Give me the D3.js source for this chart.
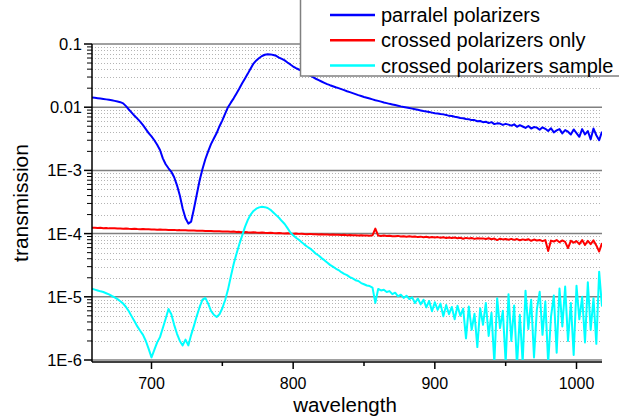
<!DOCTYPE html>
<html>
<head>
<meta charset="utf-8">
<script src="https://cdn.jsdelivr.net/npm/d3@7"></script>
<style>
  html, body { margin: 0; padding: 0; background: #fff; }
  svg { display: block; font-family: "Liberation Sans", Arial, sans-serif; }
</style>
</head>
<body>
<div id="chart"></div>
<script>
// wavelength grid of the spectra (nm, 2 nm steps)
const wavelengths = d3.range(658, 1019, 2);

// parallel polarizers, in units of 1E-3
const parallelValues = [
  14.3, 14.1, 13.9, 13.7, 13.5, 13.3, 13.1, 12.9, 12.6, 12.3,
  12.0, 11.5, 10.4, 9.2, 8.2, 7.3, 6.6, 5.9, 5.2, 4.5,
  3.9, 3.45, 3.0, 2.55, 2.1, 1.55, 1.25, 1.08, 0.95, 0.78,
  0.58, 0.40, 0.25, 0.175, 0.144, 0.155, 0.25, 0.42, 0.70, 1.05,
  1.5, 2.0, 2.6, 3.2, 3.9, 5.0, 6.2, 7.9, 10.0, 11.8,
  13.8, 16.5, 19.8, 24, 28.5, 34, 41, 49, 55, 60,
  64.5, 67.5, 69, 68.5, 67, 65, 61, 58, 55, 51,
  47.5, 44, 41.5, 39.5, 37.5, 35.5, 33.5, 31.5, 29.8, 28.2,
  26.8, 25.5, 24.3, 23.2, 22.3, 21.5, 20.7, 20.0, 19.3, 18.6,
  17.9, 17.3, 16.7, 16.1, 15.5, 15.0, 14.5, 14.1, 13.7, 13.3,
  12.9, 12.6, 12.25, 11.9, 11.6, 11.3, 11.05, 10.8, 10.55, 10.3,
  10.1, 9.9, 9.7, 9.5, 9.3, 9.1, 8.9, 8.7, 8.55, 8.4,
  8.2, 8.0, 7.95, 7.8, 7.7, 7.55, 7.3, 7.25, 7.05, 6.95,
  6.75, 6.7, 6.5, 6.45, 6.25, 6.25, 6.0, 6.05, 5.8, 5.9,
  5.6, 5.8, 5.4, 5.55, 5.5, 5.25, 5.45, 5.3, 5.1, 5.35,
  4.9, 5.2, 4.95, 4.7, 5.05, 4.6, 4.85, 4.75, 4.4, 4.8,
  4.55, 4.2, 4.65, 4.0, 4.3, 4.5, 3.85, 4.35, 4.1, 3.7,
  4.45, 3.9, 3.4, 4.5, 3.7, 4.2, 3.1, 4.6, 3.6, 3.0,
  4.1
];

// crossed polarizers only, in units of 1E-5
const crossedOnlyValues = [
  12.4, 12.4, 12.3, 12.35, 12.2, 12.25, 12.1, 12.2, 12.1, 12.0,
  12.05, 11.95, 12.0, 11.9, 11.85, 11.9, 11.8, 11.75, 11.8, 11.7,
  11.7, 11.6, 11.65, 11.55, 11.6, 11.5, 11.5, 11.45, 11.4, 11.45,
  11.3, 11.35, 11.25, 11.3, 11.2, 11.15, 11.2, 11.1, 11.05, 11.1,
  11.0, 10.95, 11.0, 10.9, 10.85, 10.9, 10.8, 10.8, 10.75, 10.7,
  10.75, 10.6, 10.65, 10.55, 10.6, 10.5, 10.45, 10.5, 10.4, 10.35,
  10.4, 10.3, 10.25, 10.3, 10.2, 10.15, 10.2, 10.1, 10.05, 10.1,
  10.0, 9.95, 10.0, 9.9, 9.95, 9.85, 9.8, 9.9, 9.75, 9.8,
  9.7, 9.75, 9.65, 9.7, 9.6, 9.65, 9.55, 9.6, 9.5, 9.55,
  9.45, 9.5, 9.4, 9.45, 9.35, 9.4, 9.3, 9.35, 9.25, 9.4,
  12.0, 9.3, 9.2, 9.3, 9.15, 9.25, 9.1, 9.05, 9.2, 9.0,
  9.1, 8.95, 9.05, 8.9, 9.0, 8.8, 8.95, 8.75, 8.9, 8.7,
  8.85, 8.7, 8.8, 8.6, 8.75, 8.55, 8.7, 8.5, 8.65, 8.45,
  8.6, 8.3, 8.55, 8.4, 8.5, 8.25, 8.45, 8.35, 8.4, 8.2,
  8.45, 8.15, 8.35, 7.9, 8.3, 8.1, 8.2, 8.0, 8.25, 7.95,
  8.2, 7.85, 8.1, 7.9, 8.15, 7.7, 8.05, 7.8, 7.95, 7.6,
  7.9, 5.3, 7.75, 7.5, 7.9, 7.3, 7.8, 7.4, 5.9, 7.7,
  7.2, 7.6, 6.8, 7.9, 6.6, 7.7, 6.8, 7.8, 6.5, 5.2,
  7.1
];

// crossed polarizers with sample, in units of 1E-6
const crossedSampleValues = [
  13.4, 13.0, 12.6, 12.2, 11.9, 11.4, 10.9, 10.3, 9.8, 9.2,
  8.5, 7.8, 6.9, 5.9, 4.9, 4.1, 3.4, 2.9, 2.5, 2.0,
  1.5, 1.1, 1.45, 1.9, 2.3, 3.2, 4.5, 6.4, 5.3, 3.6,
  2.6, 2.0, 1.7, 2.1, 1.7, 2.5, 3.5, 5.0, 6.9, 9.0,
  9.6, 7.8, 6.0, 5.2, 4.8, 5.3, 6.6, 8.9, 13, 21,
  33, 48, 68, 93, 128, 165, 200, 228, 248, 260,
  265, 262, 254, 238, 216, 196, 178, 158, 142, 122,
  104, 94, 86, 80, 73, 67, 62, 58, 53, 48,
  45, 41, 38, 35, 32, 30, 28, 26.5, 24.5, 23,
  22, 20.5, 19.5, 18.3, 17.8, 16.5, 15.8, 15.1, 14.8, 14.0,
  8.0, 13.3, 12.6, 12.9, 11.9, 12.3, 11.0, 11.6, 10.2, 10.8,
  9.6, 10.4, 9.2, 9.8, 8.0, 9.4, 7.6, 9.0, 6.8, 8.6,
  5.9, 8.2, 6.2, 7.8, 4.9, 7.4, 5.3, 6.9, 4.4, 7.2,
  5.0, 6.5, 2.2, 7.0, 3.0, 5.4, 1.6, 6.6, 3.6, 8.0,
  2.4, 5.6, 0.9, 9.5, 3.2, 6.0, 0.9, 11.0, 2.0, 7.3,
  0.8, 5.2, 0.9, 12.5, 3.1, 9.0, 1.1, 6.2, 12.0, 2.5,
  8.4, 0.9, 4.8, 10.5, 1.3, 13.5, 3.4, 14.5, 2.0, 8.0,
  1.2, 15.0, 4.4, 10.0, 1.9, 17.0, 3.0, 9.5, 1.8, 25,
  7.0
];

const seriesNames = ['parralel polarizers', 'crossed polarizers only', 'crossed polarizers sample'];
const seriesColors = ['#0000ff', '#ff0000', '#00ffff'];
const seriesUnits = [1e-3, 1e-5, 1e-6];

const xTicks = [700, 800, 900, 1000];
const xMinorTicks = [750, 850, 950];
const yTicks = [0.1, 0.01, 1e-3, 1e-4, 1e-5, 1e-6];
const yTickLabels = ['0.1', '0.01', '1E-3', '1E-4', '1E-5', '1E-6'];

const width = 619;
const height = 419;
const margin = { top: 44, right: 17, bottom: 59, left: 92 };

const x = d3.scaleLinear()
  .domain([658, 1018])
  .range([margin.left, width - margin.right]);

const y = d3.scaleLog()
  .domain([1e-6, 0.1])
  .range([height - margin.bottom, margin.top]);

const svg = d3.select('#chart')
  .append('svg')
  .attr('width', width)
  .attr('height', height);

// minor grid (2..9 of every decade), dotted
const minorGrid = [];
yTicks.slice(1).forEach((d) => {
  for (let k = 2; k <= 9; k++) minorGrid.push(d * k);
});

svg.append('g')
  .selectAll('line')
  .data(minorGrid)
  .join('line')
  .attr('x1', x.range()[0])
  .attr('x2', x.range()[1])
  .attr('y1', (d) => Math.round(y(d)) + 0.5)
  .attr('y2', (d) => Math.round(y(d)) + 0.5)
  .attr('stroke', '#b4b4b4')
  .attr('stroke-width', 1)
  .attr('stroke-dasharray', '1,2');

// decade grid
svg.append('g')
  .selectAll('line')
  .data(yTicks)
  .join('line')
  .attr('x1', x.range()[0])
  .attr('x2', x.range()[1])
  .attr('y1', (d) => y(d))
  .attr('y2', (d) => y(d))
  .attr('stroke', '#808080')
  .attr('stroke-width', 1.5);

// spectra
svg.append('clipPath')
  .attr('id', 'plot-clip')
  .append('rect')
  .attr('x', x.range()[0])
  .attr('y', y.range()[1])
  .attr('width', x.range()[1] - x.range()[0])
  .attr('height', y.range()[0] - y.range()[1]);

const line = d3.line()
  .x((d) => x(d[0]))
  .y((d) => y(d[1]));

const allValues = [parallelValues, crossedOnlyValues, crossedSampleValues];

svg.append('g')
  .attr('clip-path', 'url(#plot-clip)')
  .selectAll('path')
  .data(allValues)
  .join('path')
  .attr('d', (vals, i) => line(vals.map((v, j) => [wavelengths[j], v * seriesUnits[i]])))
  .attr('fill', 'none')
  .attr('stroke', (_, i) => seriesColors[i])
  .attr('stroke-width', 2)
  .attr('stroke-linejoin', 'round');

// y axis
const yAxis = svg.append('g');
yAxis.append('line')
  .attr('x1', x.range()[0])
  .attr('x2', x.range()[0])
  .attr('y1', y.range()[1])
  .attr('y2', y.range()[0] + 2)
  .attr('stroke', '#000')
  .attr('stroke-width', 1.5);

yAxis.selectAll('.minor')
  .data(minorGrid)
  .join('line')
  .attr('class', 'minor')
  .attr('x1', x.range()[0] - 5)
  .attr('x2', x.range()[0])
  .attr('y1', (d) => y(d))
  .attr('y2', (d) => y(d))
  .attr('stroke', '#000')
  .attr('stroke-width', 1);

yAxis.selectAll('.major')
  .data(yTicks)
  .join('line')
  .attr('class', 'major')
  .attr('x1', x.range()[0] - 8)
  .attr('x2', x.range()[0])
  .attr('y1', (d) => y(d))
  .attr('y2', (d) => y(d))
  .attr('stroke', '#000')
  .attr('stroke-width', 1.5);

yAxis.selectAll('text')
  .data(yTicks)
  .join('text')
  .attr('x', x.range()[0] - 10)
  .attr('y', (d) => y(d) + 6)
  .attr('text-anchor', 'end')
  .style('font-size', '16.5px')
  .text((d, i) => yTickLabels[i]);

// x axis
const xAxis = svg.append('g');
xAxis.append('line')
  .attr('x1', x.range()[0])
  .attr('x2', x.range()[1])
  .attr('y1', y.range()[0] + 2)
  .attr('y2', y.range()[0] + 2)
  .attr('stroke', '#000')
  .attr('stroke-width', 1.5);

xAxis.selectAll('.major')
  .data(xTicks)
  .join('line')
  .attr('class', 'major')
  .attr('x1', (d) => x(d))
  .attr('x2', (d) => x(d))
  .attr('y1', y.range()[0] + 2)
  .attr('y2', y.range()[0] + 9)
  .attr('stroke', '#000')
  .attr('stroke-width', 1.5);

xAxis.selectAll('.minor')
  .data(xMinorTicks)
  .join('line')
  .attr('class', 'minor')
  .attr('x1', (d) => x(d))
  .attr('x2', (d) => x(d))
  .attr('y1', y.range()[0] + 2)
  .attr('y2', y.range()[0] + 6)
  .attr('stroke', '#000')
  .attr('stroke-width', 1.5);

xAxis.selectAll('text')
  .data(xTicks)
  .join('text')
  .attr('x', (d) => x(d))
  .attr('y', 389)
  .attr('text-anchor', 'middle')
  .style('font-size', '16px')
  .text((d) => d);

// axis titles
svg.append('text')
  .attr('x', 345)
  .attr('y', 412)
  .attr('text-anchor', 'middle')
  .style('font-size', '20.5px')
  .text('wavelength');

svg.append('text')
  .attr('transform', 'translate(28, 203) rotate(-90)')
  .attr('text-anchor', 'middle')
  .style('font-size', '21px')
  .text('transmission');

// legend
const legend = svg.append('g');
legend.append('rect')
  .attr('x', 300.5)
  .attr('y', -2)
  .attr('width', 330)
  .attr('height', 78)
  .attr('fill', '#fff')
  .attr('stroke', '#808080')
  .attr('stroke-width', 1.5);

const legendRows = legend.selectAll('g.row')
  .data(seriesNames)
  .join('g')
  .attr('class', 'row')
  .attr('transform', (_, i) => `translate(0, ${15 + i * 25.3})`);

legendRows.append('line')
  .attr('x1', 330)
  .attr('x2', 375)
  .attr('stroke', (_, i) => seriesColors[i])
  .attr('stroke-width', 2.5);

legendRows.append('text')
  .attr('x', 381)
  .attr('y', 7)
  .style('font-size', '20px')
  .text((d) => d);
</script>
</body>
</html>
